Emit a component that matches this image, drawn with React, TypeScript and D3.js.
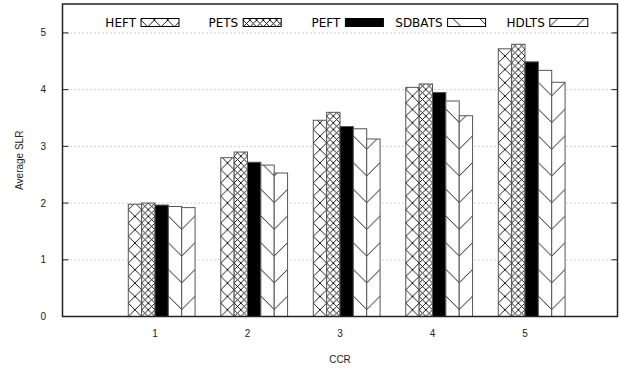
import React, { useEffect, useRef } from "react";
import * as d3 from "d3";

const categories = ["1", "2", "3", "4", "5"];
const seriesNames = ["HEFT", "PETS", "PEFT", "SDBATS", "HDLTS"];
const heft = [1.98, 2.8, 3.46, 4.04, 4.72];
const pets = [2.0, 2.9, 3.6, 4.1, 4.8];
const peft = [1.965, 2.72, 3.35, 3.95, 4.49];
const sdbats = [1.94, 2.67, 3.31, 3.8, 4.34];
const hdlts = [1.92, 2.53, 3.13, 3.54, 4.13];
const yTicks = [0, 1, 2, 3, 4, 5];

// fill style per series, gnuplot-like patterns
const fills = ["cross", "fine", "solid", "back", "fwd"];

function App() {
  const ref = useRef(null);

  useEffect(() => {
    const svg = d3.select(ref.current);
    svg.selectAll("*").remove();

    const left = 62.5,
      right = 617.5,
      top = 4,
      bottom = 316.5;
    const values = [heft, pets, peft, sdbats, hdlts];

    const x = d3.scaleLinear().domain([0, 6]).range([left, right]);
    const y = d3.scaleLinear().domain([0, 5.51]).range([bottom, top]);
    const bw = x(0.1444) - x(0);

    const defs = svg.append("defs");
    let pid = 0;

    // build a pattern anchored at (px, py)
    function makeFill(kind, px, py) {
      if (kind === "solid") return "#000";
      const id = "p" + pid++;
      let w = bw,
        h = bw;
      if (kind === "fine") {
        w = bw / 2;
        h = bw / 2;
      }
      if (kind === "back" || kind === "fwd") {
        w = bw * 2;
        h = bw * 2;
      }
      let oy = py;
      if (kind === "back") oy = py - 7 - bw;
      if (kind === "fwd") oy = py - 7;
      const p = defs
        .append("pattern")
        .attr("id", id)
        .attr("patternUnits", "userSpaceOnUse")
        .attr("x", px)
        .attr("y", oy)
        .attr("width", w)
        .attr("height", h);
      p.append("rect").attr("width", w).attr("height", h).attr("fill", "#fff");
      const line = (x1, y1, x2, y2) =>
        p
          .append("line")
          .attr("x1", x1)
          .attr("y1", y1)
          .attr("x2", x2)
          .attr("y2", y2)
          .attr("stroke", "#000")
          .attr("stroke-width", 0.9);
      if (kind === "cross" || kind === "fine") {
        line(0, 0, w, h);
        line(0, h, w, 0);
      } else if (kind === "back") {
        line(-1, -1, w + 1, h + 1);
      } else {
        line(-1, h + 1, w + 1, -1);
      }
      return `url(#${id})`;
    }

    // grid
    svg
      .append("g")
      .selectAll("line")
      .data(yTicks.filter((d) => d > 0))
      .enter()
      .append("line")
      .attr("x1", left)
      .attr("x2", right)
      .attr("y1", (d) => y(d))
      .attr("y2", (d) => y(d))
      .attr("stroke", "#aaa")
      .attr("stroke-width", 1)
      .attr("stroke-dasharray", "1,3");

    // y ticks both sides
    const tk = svg.append("g");
    yTicks.forEach((d) => {
      tk.append("line")
        .attr("x1", left)
        .attr("x2", left + 6)
        .attr("y1", y(d))
        .attr("y2", y(d))
        .attr("stroke", "#222");
      tk.append("line")
        .attr("x1", right)
        .attr("x2", right - 6)
        .attr("y1", y(d))
        .attr("y2", y(d))
        .attr("stroke", "#222");
      tk.append("text")
        .attr("x", 46)
        .attr("y", y(d))
        .attr("dy", "0.35em")
        .attr("text-anchor", "end")
        .attr("font-family", "Liberation Sans, Arial, sans-serif")
        .attr("font-size", "10px")
        .attr("fill", "#222")
        .text(d);
    });

    // bars
    const bars = svg.append("g");
    categories.forEach((c, ci) => {
      const cx = x(ci + 1);
      seriesNames.forEach((s, si) => {
        const bx = cx - 2 * bw + si * bw;
        const v = values[si][ci];
        bars
          .append("rect")
          .attr("x", bx)
          .attr("y", y(v))
          .attr("width", bw)
          .attr("height", y(0) - y(v))
          .attr("fill", makeFill(fills[si], bx, y(0)))
          .attr("stroke", "#555")
          .attr("stroke-width", 1);
      });
      svg
        .append("text")
        .attr("x", cx)
        .attr("y", 337)
        .attr("text-anchor", "middle")
        .attr("font-family", "Liberation Sans, Arial, sans-serif")
        .attr("font-size", "10px")
        .attr("fill", "#222")
        .text(c);
    });

    // border
    svg
      .append("rect")
      .attr("x", left)
      .attr("y", top)
      .attr("width", right - left)
      .attr("height", bottom - top)
      .attr("fill", "none")
      .attr("stroke", "#222")
      .attr("stroke-width", 1.5);

    // axis titles
    svg
      .append("text")
      .attr("x", (left + right) / 2)
      .attr("y", 363)
      .attr("text-anchor", "middle")
      .attr("font-family", "Liberation Sans, Arial, sans-serif")
      .attr("font-size", "10px")
      .attr("fill", "#222")
      .text("CCR");
    svg
      .append("text")
      .attr("transform", `translate(23, ${(top + bottom) / 2}) rotate(-90)`)
      .attr("text-anchor", "middle")
      .attr("font-family", "Liberation Sans, Arial, sans-serif")
      .attr("font-size", "10px")
      .attr("fill", "#222")
      .text("Average SLR");

    // legend
    const legend = svg.append("g");
    seriesNames.forEach((s, i) => {
      const lx = 141 + i * 102.2;
      legend
        .append("text")
        .attr("x", lx - 5)
        .attr("y", 26.5)
        .attr("text-anchor", "end")
        .attr("font-family", "DejaVu Sans, sans-serif")
        .attr("font-size", "12px")
        .attr("fill", "#000")
        .text(s);
      legend
        .append("rect")
        .attr("x", lx)
        .attr("y", 18.5)
        .attr("width", 38)
        .attr("height", 8)
        .attr("fill", makeFill(fills[i], lx, 26.5 + 7))
        .attr("stroke", "#000")
        .attr("stroke-width", 1);
    });
  }, []);

  return (
    <div>
      <svg
        ref={ref}
        width={621}
        height={369}
        style={{ position: "absolute", left: 0, top: 0, background: "#fff" }}
      />
    </div>
  );
}

export default App;
